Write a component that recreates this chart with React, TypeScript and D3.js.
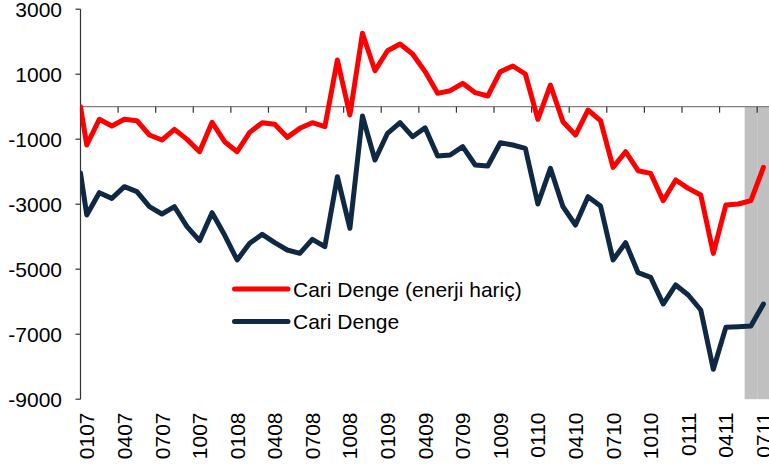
import React from "react";
import * as d3 from "d3";

const categories = [
  "0107","0207","0307","0407","0507","0607","0707","0807","0907","1007","1107","1207",
  "0108","0208","0308","0408","0508","0608","0708","0808","0908","1008","1108","1208",
  "0109","0209","0309","0409","0509","0609","0709","0809","0909","1009","1109","1209",
  "0110","0210","0310","0410","0510","0610","0710","0810","0910","1010","1110","1210",
  "0111","0211","0311","0411","0511","0611","0711",
];
const tickLabels = [
  "0107","0407","0707","1007","0108","0408","0708","1008","0109","0409",
  "0709","1009","0110","0410","0710","1010","0111","0411","0711",
];
const yTicks = [3000, 1000, -1000, -3000, -5000, -7000, -9000];

// value where each line meets the vertical axis (start of the visible segment)
const enerjiHaricAxisStart = 0;
const cariDengeAxisStart = -2040;

const enerjiHaric = [
  -1178, -388, -594, -388, -430, -871, -1025, -697, -1005, -1385, -481, -1077,
  -1385, -790, -492, -543, -943, -666, -492, -615, 1437, -255, 2258, 1108,
  1723, 1929, 1622, 1080, 411, 492, 720, 431, 329, 1077, 1252, 1006,
  -388, 668, -461, -871, -102, -430, -1866, -1385, -1969, -2051, -2892, -2255,
  -2512, -2717, -4512, -3025, -2994, -2892, -1866,
];
const cariDenge = [
  -3332, -2646, -2820, -2461, -2615, -3077, -3302, -3077, -3692, -4123, -3262, -3948,
  -4717, -4204, -3927, -4184, -4409, -4512, -4081, -4307, -2154, -3742, -286, -1640,
  -818, -492, -923, -650, -1517, -1486, -1230, -1794, -1825, -1108, -1178, -1280,
  -2994, -1896, -3077, -3640, -2769, -3056, -4717, -4184, -5108, -5251, -6071, -5486,
  -5794, -6255, -8081, -6789, -6769, -6748, -6071,
];
const shaded = ["0611", "0711"];
const shadeValue = -9000;

const W = 769;
const H = 464;
const FONT = "'Liberation Sans', Arial, sans-serif";

export default function App() {
  const left = 80.5;
  const right = 769.7;
  const x = d3.scaleBand<string>().domain(categories).range([left, right]).paddingInner(0).paddingOuter(0);
  const step = x.step();
  const y = d3.scaleLinear().domain([-9000, 3000]).range([399.2, 9.2]);
  const cx = (i: number) => (x(categories[0]) as number) + step / 2 + i * step;

  const line = d3
    .line<[number, number]>()
    .x((d) => d[0])
    .y((d) => y(d[1]));

  const redPts: [number, number][] = [[left, enerjiHaricAxisStart], ...enerjiHaric.map((v, i) => [cx(i), v] as [number, number])];
  const navyPts: [number, number][] = [[left, cariDengeAxisStart], ...cariDenge.map((v, i) => [cx(i), v] as [number, number])];

  const tickIdx = tickLabels.map((l) => categories.indexOf(l));
  const y0 = y(0);

  return (
    <svg width={W} height={H} style={{ position: "absolute", left: 0, top: 0 }} fontFamily={FONT}>
      <defs>
        <clipPath id="plot">
          <rect x={left} y={0} width={W - left} height={H} />
        </clipPath>
      </defs>
      {shaded.map((c) => (
        <rect key={c} x={x(c)} y={y0} width={step} height={y(shadeValue) - y0} fill="#C0C0C0" />
      ))}
      {/* zero line */}
      <line x1={left} x2={right} y1={y0} y2={y0} stroke="#808080" strokeWidth={1.3} />
      {tickIdx.map((i, k) => (
        <line key={k} x1={(x(categories[i]) as number)} x2={(x(categories[i]) as number)} y1={y0} y2={y0 + 6} stroke="#333" strokeWidth={1.2} />
      ))}
      {/* y axis */}
      <line x1={left} x2={left} y1={y(3000)} y2={y(-9000)} stroke="#333" strokeWidth={1.2} />
      {yTicks.map((t) => (
        <g key={t}>
          <line x1={left - 5} x2={left} y1={y(t)} y2={y(t)} stroke="#333" strokeWidth={1.2} />
          <text x={62} y={y(t)} dy="0.36em" textAnchor="end" fontSize={21} fill="#000">
            {t}
          </text>
        </g>
      ))}
      {tickLabels.map((l, k) => {
        const xc = cx(tickIdx[k]);
        return (
          <text key={l} transform={`translate(${xc},412.5) rotate(-90)`} dy="0.36em" textAnchor="end" fontSize={21} fill="#000">
            {l}
          </text>
        );
      })}
      <g clipPath="url(#plot)" fill="none" strokeLinejoin="round" strokeLinecap="round" strokeWidth={5}>
        <path d={line(redPts) || ""} stroke="#FF0000" />
        <path d={line(navyPts) || ""} stroke="#0F2844" />
      </g>
      {/* legend */}
      <line x1={234.5} x2={288} y1={289} y2={289} stroke="#FF0000" strokeWidth={5} strokeLinecap="round" />
      <text x={293} y={289} dy="0.36em" fontSize={21} fill="#000">Cari Denge (enerji hariç)</text>
      <line x1={234.5} x2={288} y1={321.5} y2={321.5} stroke="#0F2844" strokeWidth={5} strokeLinecap="round" />
      <text x={293} y={321.5} dy="0.36em" fontSize={21} fill="#000">Cari Denge</text>
    </svg>
  );
}
